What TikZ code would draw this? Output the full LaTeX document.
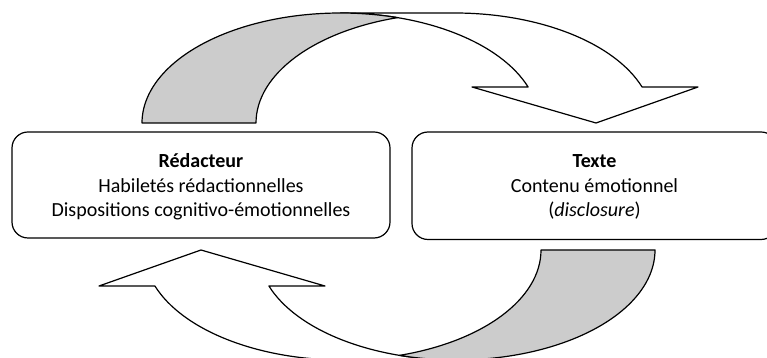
\documentclass[tikz,border=0pt]{standalone}
\usepackage{fontspec}
\setmainfont{Carlito}
\newcommand\drawCurvedArrow{%
  % front face with arrowhead
  \filldraw[face, fill=white] (596,235) -- (472,271) -- (528.1,271)
     arc[start angle=19.10, end angle=90, x radius=198.5, y radius=110]
     -- (454.5,345)
     arc[start angle=90, end angle=19.10, x radius=198.5, y radius=110]
     -- (698,271) -- cycle;
  % back face (shaded)
  \filldraw[face, fill=backgray] (142,235)
     arc[start angle=180, end angle=73.31, x radius=198.5, y radius=110]
     arc[start angle=106.69, end angle=180, x radius=198.5, y radius=110]
     -- cycle;
}
\begin{document}
\begin{tikzpicture}[x=1pt,y=1pt,
  box/.style={draw, line width=1.2pt, rounded corners=16pt, align=center,
    font=\fontsize{20}{24.4}\selectfont, inner sep=0pt, text depth=5pt},
  face/.style={draw, line width=1.2pt, line join=round},
]
\definecolor{backgray}{RGB}{204,204,204}
\useasboundingbox (0,0) rectangle (767,358);
\node[box, minimum width=378pt, minimum height=106pt, text height=68.6pt] (redacteur) at (201,173)
  {\textbf{Rédacteur}\\Habiletés rédactionnelles\\Dispositions cognitivo-émotionnelles};
\node[box, minimum width=365pt, minimum height=107.5pt, text height=67.1pt] (texte) at (594.5,172.25)
  {\textbf{Texte}\\Contenu émotionnel\\(\textit{disclosure})};
\begin{scope}
  \drawCurvedArrow
\end{scope}
\begin{scope}[rotate around={180:(398.5,171.5)}]
  \drawCurvedArrow
\end{scope}
\end{tikzpicture}
\end{document}
